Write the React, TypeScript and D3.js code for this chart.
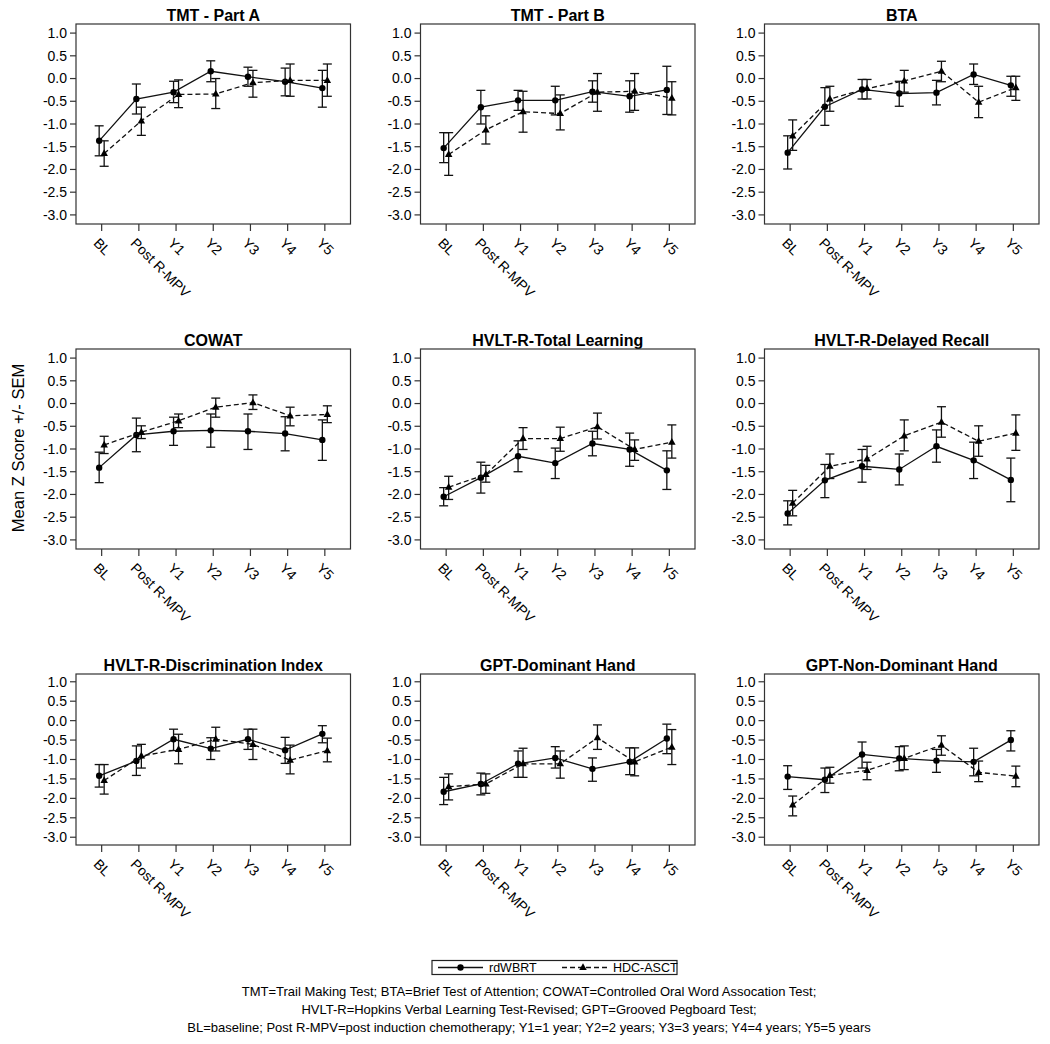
import React from "react";
import * as d3 from "d3";

const categories = ["BL", "Post R-MPV", "Y1", "Y2", "Y3", "Y4", "Y5"];
const panelTitles = [
  "TMT - Part A",
  "TMT - Part B",
  "BTA",
  "COWAT",
  "HVLT-R-Total Learning",
  "HVLT-R-Delayed Recall",
  "HVLT-R-Discrimination Index",
  "GPT-Dominant Hand",
  "GPT-Non-Dominant Hand",
];
const yTickValues = [1.0, 0.5, 0.0, -0.5, -1.0, -1.5, -2.0, -2.5, -3.0];
const yTickLabels = ["1.0", "0.5", "0.0", "-0.5", "-1.0", "-1.5", "-2.0", "-2.5", "-3.0"];
const seriesNames = ["rdWBRT", "HDC-ASCT"];

// rdWBRT (solid line, circles)
const rdMean = [
  [-1.37, -0.45, -0.30, 0.16, 0.04, -0.07, -0.21],
  [-1.53, -0.63, -0.48, -0.48, -0.29, -0.39, -0.25],
  [-1.63, -0.62, -0.24, -0.33, -0.31, 0.09, -0.15],
  [-1.41, -0.69, -0.61, -0.59, -0.61, -0.66, -0.80],
  [-2.05, -1.63, -1.16, -1.31, -0.88, -1.01, -1.47],
  [-2.42, -1.69, -1.38, -1.45, -0.94, -1.25, -1.68],
  [-1.42, -1.04, -0.48, -0.72, -0.48, -0.76, -0.34],
  [-1.83, -1.63, -1.11, -0.96, -1.24, -1.06, -0.46],
  [-1.44, -1.52, -0.87, -0.97, -1.03, -1.06, -0.50],
];
const rdUpper = [
  [-1.04, -0.12, -0.06, 0.39, 0.25, 0.23, 0.18],
  [-1.19, -0.26, -0.26, -0.17, -0.05, -0.05, 0.27],
  [-1.26, -0.20, -0.02, -0.06, -0.04, 0.32, 0.05],
  [-1.07, -0.32, -0.30, -0.23, -0.23, -0.29, -0.36],
  [-1.85, -1.29, -0.82, -0.98, -0.61, -0.65, -1.04],
  [-2.14, -1.34, -1.01, -1.11, -0.58, -0.85, -1.20],
  [-1.13, -0.65, -0.22, -0.44, -0.22, -0.43, -0.13],
  [-1.46, -1.35, -0.78, -0.67, -0.96, -0.70, -0.09],
  [-1.16, -1.22, -0.55, -0.67, -0.74, -0.71, -0.26],
];
const rdLower = [
  [-1.70, -0.78, -0.53, -0.07, -0.17, -0.38, -0.63],
  [-1.85, -1.00, -0.70, -0.80, -0.52, -0.74, -0.79],
  [-1.99, -1.03, -0.45, -0.61, -0.58, -0.13, -0.39],
  [-1.74, -1.06, -0.92, -0.96, -1.01, -1.04, -1.25],
  [-2.25, -1.97, -1.50, -1.65, -1.15, -1.38, -1.89],
  [-2.67, -2.07, -1.73, -1.79, -1.29, -1.65, -2.16],
  [-1.71, -1.41, -0.77, -1.00, -0.74, -1.10, -0.57],
  [-2.16, -1.91, -1.46, -1.22, -1.56, -1.39, -0.85],
  [-1.77, -1.85, -1.22, -1.29, -1.33, -1.42, -0.78],
];

// HDC-ASCT (dashed line, triangles)
const hdcMean = [
  [-1.65, -0.93, -0.35, -0.34, -0.09, -0.04, -0.04],
  [-1.67, -1.13, -0.73, -0.77, -0.30, -0.28, -0.43],
  [-1.26, -0.45, -0.22, -0.05, 0.16, -0.52, -0.20],
  [-0.91, -0.63, -0.38, -0.08, 0.02, -0.27, -0.24],
  [-1.84, -1.56, -0.77, -0.77, -0.51, -1.01, -0.85],
  [-2.19, -1.38, -1.22, -0.71, -0.41, -0.83, -0.65],
  [-1.54, -0.91, -0.74, -0.48, -0.61, -1.02, -0.77],
  [-1.70, -1.63, -1.11, -1.11, -0.44, -1.06, -0.68],
  [-2.17, -1.41, -1.28, -0.97, -0.63, -1.33, -1.43],
];
const hdcUpper = [
  [-1.37, -0.63, -0.03, 0.0, 0.18, 0.32, 0.32],
  [-1.19, -0.82, -0.28, -0.36, 0.11, 0.11, -0.07],
  [-0.91, -0.17, -0.02, 0.18, 0.38, -0.17, 0.05],
  [-0.72, -0.49, -0.23, 0.12, 0.19, -0.08, -0.05],
  [-1.60, -1.36, -0.53, -0.52, -0.21, -0.80, -0.47],
  [-1.91, -1.11, -0.94, -0.36, -0.07, -0.49, -0.25],
  [-1.13, -0.61, -0.35, -0.17, -0.22, -0.63, -0.45],
  [-1.37, -1.37, -0.71, -0.78, -0.11, -0.70, -0.23],
  [-1.94, -1.20, -1.07, -0.65, -0.39, -1.04, -1.17],
];
const hdcLower = [
  [-1.93, -1.25, -0.64, -0.66, -0.41, -0.39, -0.39],
  [-2.13, -1.44, -1.18, -1.13, -0.72, -0.70, -0.80],
  [-1.58, -0.72, -0.45, -0.30, -0.07, -0.86, -0.48],
  [-1.10, -0.77, -0.53, -0.30, -0.13, -0.49, -0.42],
  [-2.11, -1.73, -1.01, -1.05, -0.78, -1.25, -1.20],
  [-2.47, -1.65, -1.45, -1.04, -0.74, -1.16, -1.03],
  [-1.89, -1.22, -1.11, -0.78, -1.00, -1.37, -1.06],
  [-2.04, -1.87, -1.46, -1.48, -0.74, -1.42, -1.13],
  [-2.45, -1.61, -1.52, -1.26, -0.89, -1.57, -1.70],
];

const yAxisTitle = "Mean Z Score +/- SEM";
const footnoteLines = [
  "TMT=Trail Making Test; BTA=Brief Test of Attention; COWAT=Controlled Oral Word Assocation Test;",
  "HVLT-R=Hopkins Verbal Learning Test-Revised; GPT=Grooved Pegboard Test;",
  "BL=baseline; Post R-MPV=post induction chemotherapy; Y1=1 year; Y2=2 years; Y3=3 years; Y4=4 years; Y5=5 years",
];

// layout
const W = 1050;
const H = 1044;
const colLefts = [76, 420.5, 764.5];
const colWidth = 274.5;
const rowTops = [24, 349, 674];
const rowHeights = [200, 200, 171];
const FONT = "'Liberation Sans', Arial, Helvetica, sans-serif";
const OFFSET = 2.5;

function triPath(cx: number, cy: number, s: number) {
  const h = s * 0.9;
  return `M${cx},${cy - h * 0.62}L${cx + s / 2},${cy + h * 0.38}L${cx - s / 2},${cy + h * 0.38}Z`;
}

function Panel({ idx }: { idx: number }) {
  const col = idx % 3;
  const row = Math.floor(idx / 3);
  const L = colLefts[col];
  const T = rowTops[row];
  const Hh = rowHeights[row];
  const x = d3.scalePoint<string>().domain(categories).range([L, L + colWidth]).padding(0.69);
  const y = d3.scaleLinear().domain([-3.2, 1.2]).range([T + Hh, T]);
  const bottom = T + Hh;
  const line = d3
    .line<number>()
    .x((_, i) => (x(categories[i]) as number))
    .y((d) => y(d));

  const series = [
    { mean: rdMean[idx], up: rdUpper[idx], lo: rdLower[idx], dx: -OFFSET, dash: undefined as string | undefined, marker: "circle" },
    { mean: hdcMean[idx], up: hdcUpper[idx], lo: hdcLower[idx], dx: OFFSET, dash: "5,3", marker: "tri" },
  ];

  return (
    <g>
      <text x={L + colWidth / 2} y={T - 3} textAnchor="middle" fontFamily={FONT} fontWeight="bold" fontSize={16}>
        {panelTitles[idx]}
      </text>
      <rect x={L} y={T} width={colWidth} height={Hh} fill="none" stroke="#333" strokeWidth={1.2} />
      {yTickValues.map((v, i) => (
        <g key={i}>
          <line x1={L - 6} x2={L} y1={y(v)} y2={y(v)} stroke="#333" strokeWidth={1.2} />
          <text x={L - 9} y={y(v)} dy="0.35em" textAnchor="end" fontFamily={FONT} fontSize={14}>
            {yTickLabels[i]}
          </text>
        </g>
      ))}
      {categories.map((c) => (
        <g key={c}>
          <line x1={x(c)} x2={x(c)} y1={bottom} y2={bottom + 7} stroke="#333" strokeWidth={1.2} />
          <text
            transform={`translate(${(x(c) as number) - 9},${bottom + 20}) rotate(45)`}
            fontFamily={FONT}
            fontSize={14}
          >
            {c}
          </text>
        </g>
      ))}
      {series.map((s, si) => (
        <g key={si} transform={`translate(${s.dx},0)`}>
          <path d={line(s.mean) as string} fill="none" stroke="#111" strokeWidth={1.3} strokeDasharray={s.dash} />
          {s.mean.map((m, i) => {
            const cx = x(categories[i]) as number;
            return (
              <g key={i}>
                <line x1={cx} x2={cx} y1={y(s.up[i])} y2={y(s.lo[i])} stroke="#111" strokeWidth={1.3} />
                <line x1={cx - 4.5} x2={cx + 4.5} y1={y(s.up[i])} y2={y(s.up[i])} stroke="#111" strokeWidth={1.3} />
                <line x1={cx - 4.5} x2={cx + 4.5} y1={y(s.lo[i])} y2={y(s.lo[i])} stroke="#111" strokeWidth={1.3} />
                {s.marker === "circle" ? (
                  <circle cx={cx} cy={y(m)} r={3.2} fill="#000" />
                ) : (
                  <path d={triPath(cx, y(m), 7.5)} fill="#000" />
                )}
              </g>
            );
          })}
        </g>
      ))}
    </g>
  );
}

export default function App() {
  const legendY = 967.5;
  return (
    <svg
      width={W}
      height={H}
      viewBox={`0 0 ${W} ${H}`}
      style={{ position: "absolute", left: 0, top: 0, background: "#fff" }}
    >
      <rect x={0} y={0} width={W} height={H} fill="#fff" />
      {panelTitles.map((_, i) => (
        <Panel key={i} idx={i} />
      ))}
      <text
        transform={`translate(18,448) rotate(-90)`}
        textAnchor="middle"
        dy="0.35em"
        fontFamily={FONT}
        fontSize={16.5}
      >
        {yAxisTitle}
      </text>
      {/* legend */}
      <g>
        <rect x={432} y={960.5} width={245} height={14} fill="none" stroke="#222" strokeWidth={1.2} />
        <line x1={438} x2={483} y1={legendY} y2={legendY} stroke="#111" strokeWidth={1.3} />
        <circle cx={460.5} cy={legendY} r={3.2} fill="#000" />
        <text x={489} y={legendY} dy="0.35em" fontFamily={FONT} fontSize={12.5}>
          {seriesNames[0]}
        </text>
        <line x1={562} x2={607} y1={legendY} y2={legendY} stroke="#111" strokeWidth={1.3} strokeDasharray="5,3" />
        <path d={triPath(583, legendY, 7.5)} fill="#000" />
        <text x={613} y={legendY} dy="0.35em" fontFamily={FONT} fontSize={12.5}>
          {seriesNames[1]}
        </text>
      </g>
      {footnoteLines.map((t, i) => (
        <text key={i} x={529} y={996 + i * 18} textAnchor="middle" fontFamily={FONT} fontSize={13}>
          {t}
        </text>
      ))}
    </svg>
  );
}
